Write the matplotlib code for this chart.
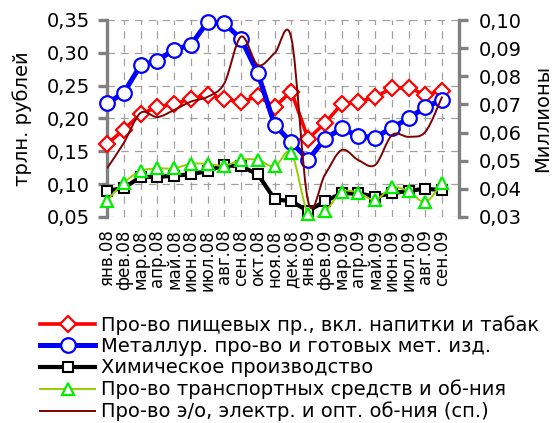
import matplotlib
matplotlib.use("Agg")
import matplotlib.pyplot as plt
from matplotlib.path import Path
from matplotlib.patches import PathPatch
from matplotlib.lines import Line2D
from matplotlib.ticker import FuncFormatter, MultipleLocator

plt.rcParams['font.family'] = ['DejaVu Sans']

months = ["янв.08", "фев.08", "мар.08", "апр.08", "май.08", "июн.08", "июл.08",
          "авг.08", "сен.08", "окт.08", "ноя.08", "дек.08", "янв.09", "фев.09",
          "мар.09", "апр.09", "май.09", "июн.09", "июл.09", "авг.09", "сен.09"]

food = [0.161, 0.183, 0.207, 0.217, 0.222, 0.230, 0.236, 0.230, 0.225, 0.234, 0.218,
        0.241, 0.169, 0.193, 0.222, 0.225, 0.233, 0.246, 0.247, 0.236, 0.242]
metal = [0.223, 0.239, 0.281, 0.288, 0.305, 0.312, 0.347, 0.345, 0.321, 0.269, 0.190,
         0.164, 0.137, 0.169, 0.185, 0.173, 0.171, 0.186, 0.200, 0.218, 0.228]
chem = [0.090, 0.094, 0.111, 0.111, 0.113, 0.115, 0.120, 0.129, 0.127, 0.115, 0.077,
        0.074, 0.059, 0.074, 0.086, 0.086, 0.081, 0.086, 0.090, 0.093, 0.091]
transport = [0.075, 0.102, 0.120, 0.124, 0.124, 0.131, 0.131, 0.128, 0.137, 0.137, 0.127,
             0.147, 0.054, 0.059, 0.088, 0.087, 0.076, 0.095, 0.089, 0.073, 0.102]
electro = [0.0473, 0.0563, 0.0670, 0.0655, 0.0680, 0.0710, 0.0727, 0.0775, 0.0941, 0.0840,
           0.0882, 0.0935, 0.0355, 0.0450, 0.0538, 0.0502, 0.0485, 0.0591, 0.0585, 0.0603,
           0.0728]

labels = ["Про-во пищевых пр., вкл. напитки и табак",
          "Металлур. про-во и готовых мет. изд.",
          "Химическое производство",
          "Про-во транспортных средств и об-ния",
          "Про-во э/о, электр. и опт. об-ния (сп.)"]

W, H = 553, 423
fig = plt.figure(figsize=(W / 100, H / 100), dpi=100)
L, R, T, B = 107, 459, 20, 217
ax = fig.add_axes([L / W, 1 - B / H, (R - L) / W, (B - T) / H])
ax2 = ax.twinx()

x = list(range(len(months)))


def smooth_path(xs, ys):
    verts = [(xs[0], ys[0])]
    codes = [Path.MOVETO]
    n = len(xs)
    for i in range(n - 1):
        xp, yp = (xs[i - 1], ys[i - 1]) if i > 0 else (xs[i], ys[i])
        xn, yn = (xs[i + 2], ys[i + 2]) if i + 2 < n else (xs[i + 1], ys[i + 1])
        c1 = (xs[i] + (xs[i + 1] - xp) / 6, ys[i] + (ys[i + 1] - yp) / 6)
        c2 = (xs[i + 1] - (xn - xs[i]) / 6, ys[i + 1] - (yn - ys[i]) / 6)
        verts += [c1, c2, (xs[i + 1], ys[i + 1])]
        codes += [Path.CURVE4] * 3
    return Path(verts, codes)


red, blue, green_line, green_mk, brown = "#FF0000", "#0000FF", "#99CC00", "#00EE00", "#800000"

st_food = dict(color=red, lw=2.6, marker="D", ms=8.5, mfc="white", mec=red, mew=1.6)
st_metal = dict(color=blue, lw=3.6, marker="o", ms=10.5, mfc="white", mec=blue, mew=1.6)
st_chem = dict(color="black", lw=3.0, marker="s", ms=7.5, mfc="white", mec="black", mew=1.5)
st_tr_mk = dict(marker="^", ms=9, mfc="white", mec=green_mk, mew=1.6)

ax.plot(x, food, zorder=3, clip_on=False, **st_food)
ax.plot(x, metal, zorder=3, clip_on=False, **st_metal)
ax.plot(x, chem, zorder=3, clip_on=False, **st_chem)
ax.add_patch(PathPatch(smooth_path(x, transport), fill=False, ec=green_line, lw=1.4,
                       transform=ax.transData, zorder=3))
ax.plot(x, transport, ls="none", zorder=3, clip_on=False, **st_tr_mk)
ax2.add_patch(PathPatch(smooth_path(x, electro), fill=False, ec=brown, lw=1.4,
                        transform=ax2.transData, zorder=3))

ax.set_xlim(0, 21)
ax.set_ylim(0.05, 0.35)
ax2.set_ylim(0.03, 0.10)
ax.yaxis.set_major_locator(MultipleLocator(0.05))
ax2.yaxis.set_major_locator(MultipleLocator(0.01))
fmt = FuncFormatter(lambda v, p: f"{v:.2f}".replace(".", ","))
ax.yaxis.set_major_formatter(fmt)
ax2.yaxis.set_major_formatter(fmt)

ax.set_xticks(x)
ax.set_xticklabels(months, rotation=90, fontsize=12)
ax.tick_params(axis="x", length=0, pad=9)

gray = "#808080"
for a in (ax, ax2):
    for s in ("top", "bottom"):
        a.spines[s].set_visible(False)
ax.spines["right"].set_visible(False)
ax2.spines["left"].set_visible(False)
ax.spines["left"].set_color(gray)
ax.spines["left"].set_linewidth(2.4)
ax2.spines["right"].set_color(gray)
ax2.spines["right"].set_linewidth(2.4)
ax.tick_params(axis="y", length=6.5, width=2.4, color=gray, labelsize=14, pad=6)
ax2.tick_params(axis="y", length=6.5, width=2.4, color=gray, labelsize=14, pad=8)

ax.grid(True, color="#A0A0A0", lw=0.9, ls=(0, (6, 5)))
ax.set_axisbelow(True)

ax.set_ylabel("трлн. рублей", fontsize=14, labelpad=10)
ax2.set_ylabel("Миллионы", fontsize=14, labelpad=8)

handles = [
    Line2D([], [], **st_food),
    Line2D([], [], **st_metal),
    Line2D([], [], **st_chem),
    Line2D([], [], color=green_line, lw=1.4, **st_tr_mk),
    Line2D([], [], color=brown, lw=1.4),
]
fig.legend(handles, labels, loc="upper left", bbox_to_anchor=(40 / W, 1 - 315 / H),
           frameon=False, fontsize=14, handlelength=2.85, handletextpad=0.3,
           labelspacing=0.12, borderpad=0, borderaxespad=0)

fig.savefig("out.png", dpi=100)
